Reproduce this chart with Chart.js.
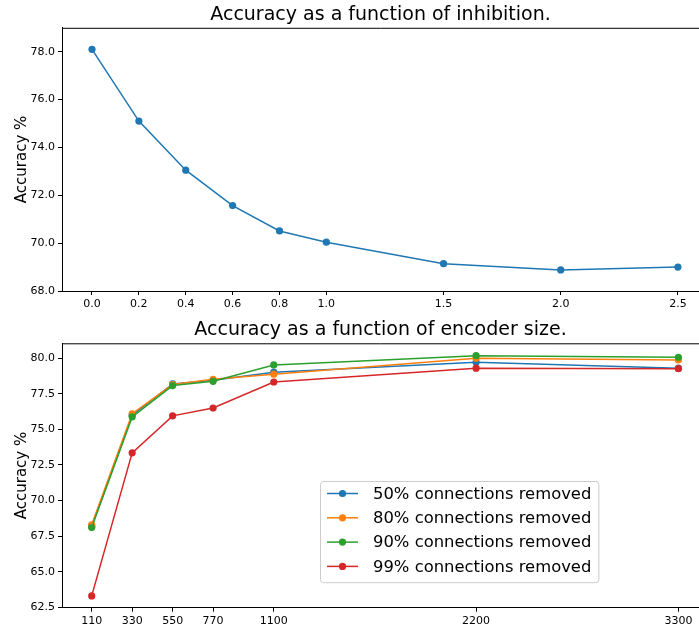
<!DOCTYPE html>
<html>
<head>
<meta charset="utf-8">
<script src="https://cdn.jsdelivr.net/npm/chart.js@4.4.0/dist/chart.umd.min.js"></script>
<style>
  html, body { margin: 0; padding: 0; background: #fff; overflow: hidden; }
  #c1 { position: absolute; left: 0; top: 0; }
  #c2 { position: absolute; left: 0; top: 310px; }
</style>
</head>
<body>
<canvas id="c1" width="699" height="310"></canvas>
<canvas id="c2" width="699" height="318"></canvas>
<script>
// inhibition chart
var inhibition = [0.0, 0.2, 0.4, 0.6, 0.8, 1.0, 1.5, 2.0, 2.5];
var inhibAcc = [78.1, 75.1, 73.05, 71.57, 70.51, 70.04, 69.14, 68.88, 69.0];
var inhibYTicks = [68, 70, 72, 74, 76, 78];

// encoder size chart
var encSizes = [110, 330, 550, 770, 1100, 2200, 3300];
var acc50 = [68.2, 76.0, 78.2, 78.45, 79.02, 79.72, 79.3];
var acc80 = [68.3, 76.1, 78.15, 78.52, 78.88, 80.0, 79.88];
var acc90 = [68.1, 75.88, 78.08, 78.38, 79.53, 80.18, 80.07];
var acc99 = [63.3, 73.35, 75.95, 76.5, 78.33, 79.3, 79.27];
var encYTicks = [62.5, 65.0, 67.5, 70.0, 72.5, 75.0, 77.5, 80.0];
var seriesLabels = ['50% connections removed', '80% connections removed', '90% connections removed', '99% connections removed'];
var seriesColors = ['#1f77b4', '#ff7f0e', '#2ca02c', '#d62728'];

Chart.defaults.font.family = '"DejaVu Sans", sans-serif';
Chart.defaults.color = '#000';

// matplotlib style top spine
var topSpine = {
    id: 'topSpine',
    afterDraw: function(chart) {
        var a = chart.chartArea, ctx = chart.ctx;
        ctx.save();
        ctx.strokeStyle = '#000';
        ctx.lineWidth = 1;
        ctx.beginPath();
        ctx.moveTo(a.left, a.top + 0.5);
        ctx.lineTo(a.right, a.top + 0.5);
        ctx.stroke();
        ctx.restore();
    }
};

// legend box inside the plot
var boxLegend = {
    id: 'boxLegend',
    afterDraw: function(chart, args, opts) {
        if (!opts.show) return;
        var ctx = chart.ctx;
        var sets = chart.data.datasets;
        var x0 = opts.left, y0 = opts.top, rowH = 24.3;
        ctx.save();
        ctx.font = '16.4px "DejaVu Sans"';
        var w = 0;
        sets.forEach(function(d) { w = Math.max(w, ctx.measureText(d.label).width); });
        var bw = 53 + w + 7, bh = rowH * sets.length + 4;
        ctx.beginPath();
        ctx.roundRect(x0 + 0.5, y0 + 0.5, bw, bh, 3);
        ctx.fillStyle = 'rgba(255,255,255,0.8)';
        ctx.fill();
        ctx.strokeStyle = '#cccccc';
        ctx.lineWidth = 1;
        ctx.stroke();
        sets.forEach(function(d, i) {
            var cy = y0 + 12.5 + i * rowH;
            ctx.strokeStyle = d.borderColor;
            ctx.lineWidth = 1.5;
            ctx.beginPath();
            ctx.moveTo(x0 + 7, cy);
            ctx.lineTo(x0 + 38, cy);
            ctx.stroke();
            ctx.fillStyle = d.borderColor;
            ctx.beginPath();
            ctx.arc(x0 + 22.5, cy, 3.6, 0, Math.PI * 2);
            ctx.fill();
            ctx.fillStyle = '#000';
            ctx.textBaseline = 'middle';
            ctx.fillText(d.label, x0 + 53, cy + 1);
        });
        ctx.restore();
    }
};

function axisX(min, max, ticks, fmt, h) {
    return {
        type: 'linear', min: min, max: max,
        afterBuildTicks: function(s) { s.ticks = ticks.map(function(v) { return {value: v}; }); },
        afterFit: function(s) { s.height = h; s.paddingLeft = 0; s.paddingRight = 0; },
        ticks: { font: {size: 11}, padding: 3, maxRotation: 0, autoSkip: false, callback: fmt },
        grid: { display: true, drawOnChartArea: false, tickLength: 4, color: '#000' },
        border: { color: '#000', width: 1 }
    };
}

function axisY(min, max, ticks) {
    return {
        type: 'linear', min: min, max: max,
        afterBuildTicks: function(s) { s.ticks = ticks.map(function(v) { return {value: v}; }); },
        afterFit: function(s) { s.width = 62; s.paddingTop = 0; s.paddingBottom = 0; },
        ticks: { font: {size: 11}, padding: 3, callback: function(v) { return Number(v).toFixed(1); } },
        grid: { display: true, drawOnChartArea: false, tickLength: 4, color: '#000' },
        border: { color: '#000', width: 1 },
        title: { display: true, text: 'Accuracy %', font: {size: 15}, padding: {top: 13, bottom: 0} }
    };
}

new Chart('c1', {
    type: 'line',
    data: {
        datasets: [{
            label: 'inhibition',
            data: inhibition.map(function(x, i) { return {x: x, y: inhibAcc[i]}; }),
            borderColor: '#1f77b4',
            backgroundColor: '#1f77b4',
            borderWidth: 1.5,
            pointRadius: 3.6,
            pointBorderWidth: 0,
            tension: 0
        }]
    },
    options: {
        responsive: false,
        animation: false,
        layout: { padding: 0, autoPadding: false },
        plugins: {
            legend: { display: false },
            tooltip: { enabled: false },
            title: { display: true, fullSize: false, text: 'Accuracy as a function of inhibition.',
                     font: {size: 19, weight: 'normal'}, padding: {top: 4, bottom: 1} }
        },
        scales: {
            x: axisX(-0.128, 2.59, inhibition, function(v) { return Number(v).toFixed(1); }, 19),
            y: axisY(68.0, 79.0, inhibYTicks)
        }
    },
    plugins: [topSpine]
});

var encSets = [acc50, acc80, acc90, acc99].map(function(arr, k) {
    return {
        label: seriesLabels[k],
        data: encSizes.map(function(x, i) { return {x: x, y: arr[i]}; }),
        borderColor: seriesColors[k],
        backgroundColor: seriesColors[k],
        borderWidth: 1.5,
        pointRadius: 3.6,
        pointBorderWidth: 0,
        tension: 0,
        order: 4 - k
    };
});

new Chart('c2', {
    type: 'line',
    data: { datasets: encSets },
    options: {
        responsive: false,
        animation: false,
        layout: { padding: 0, autoPadding: false },
        plugins: {
            legend: { display: false },
            tooltip: { enabled: false },
            title: { display: true, fullSize: false, text: 'Accuracy as a function of encoder size.',
                     font: {size: 19, weight: 'normal'}, padding: {top: 9, bottom: 1.5} },
            boxLegend: { show: true, left: 320, top: 171 }
        },
        scales: {
            x: axisX(-51.5, 3412, encSizes, function(v) { return String(v); }, 20.3),
            y: axisY(62.47, 81.05, encYTicks)
        }
    },
    plugins: [topSpine, boxLegend]
});
</script>
</body>
</html>
